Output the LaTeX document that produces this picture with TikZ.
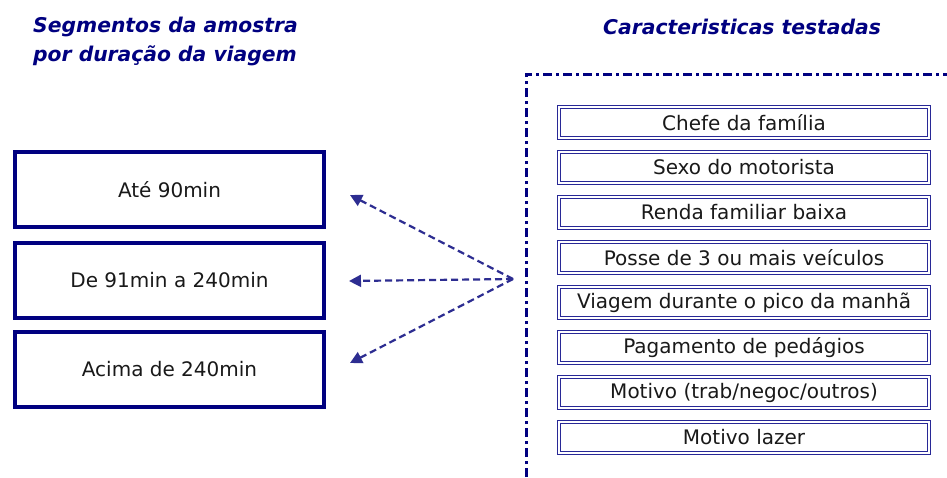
\documentclass[tikz,border=0pt]{standalone}
\usepackage{fontspec}
\setmainfont{DejaVu Sans}
\usepackage{xcolor}
\usepackage{tikz}
\usetikzlibrary{arrows.meta,positioning,calc}

\definecolor{azulmarinho}{RGB}{0,0,128}
\definecolor{azulborda}{RGB}{40,40,150}
\definecolor{azulseta}{RGB}{45,45,145}
\definecolor{textocinza}{RGB}{25,25,25}

\begin{document}
\begin{tikzpicture}[x=1pt, y=-1pt,
    titulo/.style={font=\fontsize{20.3}{29}\selectfont\bfseries\itshape, text=azulmarinho, inner sep=0pt},
    segbox/.style={draw=azulmarinho, line width=4pt, minimum width=309pt, minimum height=75pt,
        font=\fontsize{20}{24}\selectfont, text=textocinza, inner sep=0pt},
    caractbox/.style={draw=azulborda, line width=1.2pt, double=white, double distance=1.4pt,
        minimum width=370pt, minimum height=31pt, font=\fontsize{20}{24}\selectfont,
        text=textocinza, inner sep=0pt},
    seta/.style={draw=azulseta, line width=2.2pt, dash pattern=on 7pt off 4pt,
        -{Triangle[length=12pt, width=12pt]}}]
    \useasboundingbox[fill=white] (0,0) rectangle (947,477);

    % Titles
    \node[titulo, anchor=north west, align=left] (titseg) at (33,17) {Segmentos da amostra\\por duração da viagem};
    \node[titulo, anchor=base west] (titcar) at (603,34) {Caracteristicas testadas};

    % Frame round the tested characteristics
    \draw[azulmarinho, line width=3pt, dash pattern=on 9pt off 4pt on 3pt off 4pt] (526,477) -- (526,74) -- (947,74);

    % Segments by trip duration
    \node[segbox] (seg1) at (169.5,189.5) {Até 90min};
    \node[segbox] (seg2) at (169.5,280) {De 91min a 240min};
    \node[segbox] (seg3) at (169.5,369.5) {Acima de 240min};

    % Tested characteristics
    \node[caractbox] (car1) at (744,122.5) {Chefe da família};
    \node[caractbox] (car2) at (744,167.5) {Sexo do motorista};
    \node[caractbox] (car3) at (744,212.5) {Renda familiar baixa};
    \node[caractbox] (car4) at (744,257.5) {Posse de 3 ou mais veículos};
    \node[caractbox] (car5) at (744,302.5) {Viagem durante o pico da manhã};
    \node[caractbox] (car6) at (744,347.5) {Pagamento de pedágios};
    \node[caractbox] (car7) at (744,392.5) {Motivo (trab/negoc/outros)};
    \node[caractbox] (car8) at (744,437.5) {Motivo lazer};

    % Arrows towards the segments
    \coordinate (origem) at (513,279);
    \coordinate (alvo1) at (350,195);
    \coordinate (alvo2) at (349,281);
    \coordinate (alvo3) at (350,363);
    \draw[seta] (origem) -- (alvo1);
    \draw[seta] (origem) -- (alvo2);
    \draw[seta] (origem) -- (alvo3);
\end{tikzpicture}
\end{document}
